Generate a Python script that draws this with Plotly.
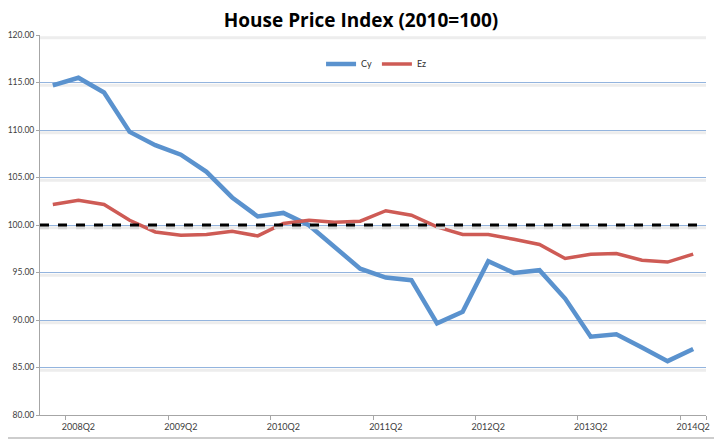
import plotly.graph_objects as go

quarters = [f"{y}Q{q}" for y in range(2008, 2015) for q in range(1, 5)][:26]
cy = [114.7, 115.5, 113.95, 109.8, 108.4, 107.4, 105.6, 102.9, 100.9, 101.27,
      99.98, 97.7, 95.4, 94.47, 94.19, 89.65, 90.87, 96.19, 94.96, 95.24,
      92.26, 88.24, 88.5, 87.1, 85.67, 86.94]
ez = [102.16, 102.6, 102.16, 100.5, 99.27, 98.93, 99.0, 99.35, 98.85, 100.16,
      100.5, 100.3, 100.4, 101.5, 101.03, 99.8, 99.0, 99.0, 98.5, 97.95,
      96.47, 96.93, 97.0, 96.3, 96.1, 96.93]
tick_labels = [q for q in quarters if q.endswith("Q2")]
y_ticks = [80, 85, 90, 95, 100, 105, 110, 115, 120]
baseline = 100

# page has an 8px body margin; figure sized to fill the rest of the window
W, H = 714, 433
ML, MR, MT, MB = 32, 16, 27, 26
pw, ph = W - ML - MR, H - MT - MB

fig = go.Figure()
fig.add_trace(go.Scatter(x=quarters, y=cy, name="Cy", mode="lines",
                         line=dict(color="#5A92CE", width=4.5)))
fig.add_trace(go.Scatter(x=quarters, y=ez, name="Ez", mode="lines",
                         line=dict(color="#CE5B55", width=3.5)))

shapes = []
# soft gridline shadows
for v in y_ticks[1:]:
    shapes.append(dict(type="line", xref="paper", yref="y", x0=0, x1=1,
                       y0=v - 0.3, y1=v - 0.3, layer="below",
                       line=dict(color="#EDEDED", width=3)))
# dashed baseline with shadow
shapes.append(dict(type="line", xref="paper", yref="y", x0=0, x1=1,
                   y0=baseline - 0.3, y1=baseline - 0.3,
                   line=dict(color="#D8D8D8", width=3, dash="dash")))
shapes.append(dict(type="line", xref="paper", yref="y", x0=0, x1=1,
                   y0=baseline, y1=baseline,
                   line=dict(color="black", width=3, dash="dash")))
# outer frame (right and bottom edges)
fx1 = (W - 2 - ML) / pw
fy0 = (-MB + 3) / ph
shapes.append(dict(type="line", xref="paper", yref="paper",
                   x0=fx1, x1=fx1, y0=fy0, y1=(ph + MT) / ph,
                   line=dict(color="#BDBDBD", width=1.5)))
shapes.append(dict(type="line", xref="paper", yref="paper",
                   x0=-ML / pw, x1=fx1, y0=fy0, y1=fy0,
                   line=dict(color="#BDBDBD", width=1.5)))

fig.update_layout(
    width=W, height=H,
    margin=dict(l=ML, r=MR, t=MT, b=MB, autoexpand=False),
    paper_bgcolor="white", plot_bgcolor="white",
    font=dict(family="Lato, Open Sans, sans-serif", size=9, color="#404040"),
    title=dict(text="<b>House Price Index (2010=100)</b>", x=353 / W, xref="container",
               xanchor="center", y=1 - 12 / H, yref="container", yanchor="middle",
               font=dict(size=19, color="black", family="Open Sans, sans-serif")),
    legend=dict(orientation="h", x=0.422, y=0.924, xanchor="left", yanchor="middle",
                font=dict(size=9, color="#303030"), bgcolor="rgba(0,0,0,0)",
                itemwidth=30, tracegroupgap=0),
    showlegend=True,
    shapes=shapes,
)
fig.update_xaxes(
    type="category", categoryorder="array", categoryarray=quarters,
    tickmode="array", tickvals=tick_labels, ticktext=tick_labels, tickangle=0,
    tickson="boundaries", ticks="outside", ticklen=4, tickcolor="#A6A6A6",
    showline=True, linecolor="#A6A6A6", linewidth=1, showgrid=False,
    range=[-0.5, len(quarters) - 0.5], tickfont=dict(size=9, color="#404040"),
    ticklabelstandoff=3, automargin=False,
)
fig.update_yaxes(
    range=[80, 120], tickmode="array", tickvals=y_ticks,
    ticktext=[f"{v:.2f}" for v in y_ticks],
    ticks="outside", ticklen=3, tickcolor="#A6A6A6",
    showline=True, linecolor="#A6A6A6", linewidth=1,
    showgrid=True, gridcolor="#93B4DE", gridwidth=1, zeroline=False,
    tickfont=dict(size=8.5, color="#404040"), automargin=False,
)
fig.write_html("out.html")
